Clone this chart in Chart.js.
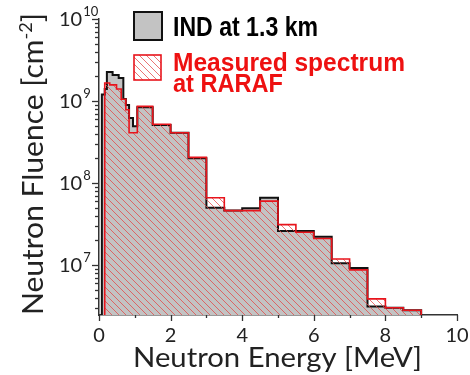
<!DOCTYPE html>
<html>
<head>
<meta charset="utf-8">
<script src="https://cdn.jsdelivr.net/npm/chart.js@4/dist/chart.umd.min.js"></script>
<style>
  html, body { margin: 0; padding: 0; background: #fff; }
  #wrap { width: 470px; height: 375px; }
</style>
</head>
<body>
<div id="wrap"><canvas id="c" width="470" height="375"></canvas></div>
<script>
// bin edges in MeV (non uniform below 1.5 MeV)
var binEdges = [0.08, 0.16, 0.22, 0.3, 0.38, 0.49, 0.55, 0.62, 0.68, 0.75, 0.84, 0.95, 1.07,
                1.5, 2, 2.5, 3, 3.5, 4, 4.5, 5, 5.5, 6, 6.5, 7, 7.5, 8, 8.5, 9];

// IND at 1.3 km, fluence per bin [cm-2]
var indFluence = [1.2e9, 1.4e9, 2.26e9, 2.26e9, 2.07e9, 2.07e9, 1.9e9, 1.9e9, 1.06e9, 8.9e8, 6.2e8, 4.9e8, 8.4e8,
                  5.1e8, 4.1e8, 2.0e8, 5.0e7, 4.6e7, 4.9e7, 6.6e7, 2.6e7, 2.6e7, 2.2e7, 1.05e7, 9.2e6, 3.1e6, 3.0e6, 2.8e6];

// measured spectrum at RARAF
var rarafFluence = [null, 1.66e9, 1.66e9, 1.57e9, 1.57e9, 1.4e9, 1.4e9, 1.05e9, 1.05e9, 7.8e8, 4.1e8, 4.1e8, 8.6e8,
                    5.2e8, 4.1e8, 2.05e8, 6.6e7, 4.6e7, 4.6e7, 6.0e7, 3.1e7, 2.5e7, 2.1e7, 1.18e7, 8.7e6, 3.85e6, 3.0e6, 2.8e6];

var xTicks = [0, 2, 4, 6, 8, 10];
var yTickExps = [7, 8, 9, 10];
var yMin = 2.45e6, yMax = 1e10;

var seriesNames = ["IND at 1.3 km", "Measured spectrum", "at RARAF"];

// histogram outline -> points for a stepped line
function steps(values) {
  var pts = [];
  var first = 0;
  while (values[first] === null) first++;
  pts.push({x: binEdges[first], y: yMin});
  for (var i = first; i < values.length; i++) {
    pts.push({x: binEdges[i], y: values[i]});
  }
  var n = values.length;
  pts.push({x: binEdges[n], y: values[n - 1]});
  pts.push({x: binEdges[n], y: yMin});
  return pts;
}

function makeHatch() {
  var s = 7;
  var p = document.createElement("canvas");
  p.width = s; p.height = s;
  var g = p.getContext("2d");
  g.strokeStyle = "rgba(228,70,70,0.75)";
  g.lineWidth = 1;
  for (var k = -1; k <= 1; k++) {
    g.beginPath();
    g.moveTo(k * s, 0);
    g.lineTo(k * s + s, s);
    g.stroke();
  }
  return document.getElementById("c").getContext("2d").createPattern(p, "repeat");
}
var hatch = makeHatch();

// draw text pieces squeezed/stretched to a given width
function fitText(ctx, parts, x, y, width) {
  var total = 0;
  parts.forEach(function (p) { ctx.font = p.font; total += ctx.measureText(p.t).width; });
  ctx.save();
  ctx.translate(x, y);
  ctx.scale(width / total, 1);
  var cx = 0;
  parts.forEach(function (p) {
    ctx.font = p.font;
    ctx.fillText(p.t, cx, p.dy || 0);
    cx += ctx.measureText(p.t).width;
  });
  ctx.restore();
}

var axisPlugin = {
  id: "axisBits",
  afterDraw: function (chart) {
    var ctx = chart.ctx;
    var xs = chart.scales.x, ys = chart.scales.y;
    var a = chart.chartArea;
    ctx.save();
    ctx.strokeStyle = "#333";
    ctx.lineWidth = 1.3;
    // y ticks (log minor)
    for (var e = 6; e <= 10; e++) {
      for (var m = 1; m <= 9; m++) {
        var v = m * Math.pow(10, e);
        if (v < yMin || v > yMax * 1.0001) continue;
        var py = Math.round(ys.getPixelForValue(v)) + 0.5;
        var len = m === 1 ? 7 : 4;
        ctx.beginPath();
        ctx.moveTo(a.left - len, py);
        ctx.lineTo(a.left, py);
        ctx.stroke();
      }
    }
    // x ticks
    for (var t = 0; t <= 10; t++) {
      var px = Math.round(xs.getPixelForValue(t)) + 0.5;
      var l = t % 2 === 0 ? 6 : 3;
      ctx.beginPath();
      ctx.moveTo(px, a.bottom);
      ctx.lineTo(px, a.bottom + l);
      ctx.stroke();
    }
    // y tick labels 10^n
    ctx.fillStyle = "#222";
    ctx.textBaseline = "alphabetic";
    ctx.textAlign = "left";
    yTickExps.forEach(function (n) {
      var py = ys.getPixelForValue(Math.pow(10, n));
      ctx.font = "20px Lato";
      ctx.fillText("10", 59, py + 7);
      var w = ctx.measureText("10").width;
      ctx.font = "13px Lato";
      ctx.fillText(String(n), 59 + w + 1, py - 3);
    });
    // axis titles
    ctx.fillStyle = "#222";
    ctx.save();
    ctx.translate(43, 315);
    ctx.rotate(-Math.PI / 2);
    fitText(ctx, [
      {t: "Neutron Fluence [cm", font: "28px Lato"},
      {t: "-2", font: "17px Lato", dy: -11},
      {t: "]", font: "28px Lato"}
    ], 0, 0, 302);
    ctx.restore();
    fitText(ctx, [{t: "Neutron Energy [MeV]", font: "26px Lato"}], 133, 367, 289);

    // legend
    ctx.fillStyle = "#c3c3c3";
    ctx.fillRect(134, 12, 28, 28);
    ctx.strokeStyle = "#111";
    ctx.lineWidth = 2;
    ctx.strokeRect(134, 12, 28, 28);
    ctx.fillStyle = "#fff";
    ctx.fillRect(134, 55, 27, 25);
    ctx.fillStyle = hatch;
    ctx.fillRect(134, 55, 27, 25);
    ctx.strokeStyle = "#e8141c";
    ctx.lineWidth = 1.6;
    ctx.strokeRect(134, 55, 27, 25);

    ctx.fillStyle = "#000";
    fitText(ctx, [{t: seriesNames[0], font: "bold 27px 'Liberation Sans'"}], 173, 36, 145);
    ctx.fillStyle = "#ee1111";
    fitText(ctx, [{t: seriesNames[1], font: "bold 25px 'Liberation Sans'"}], 173, 71, 232);
    fitText(ctx, [{t: seriesNames[2], font: "bold 25px 'Liberation Sans'"}], 173, 92, 110);
    ctx.restore();
  }
};

var chart = new Chart(document.getElementById("c"), {
  type: "line",
  data: {
    datasets: [
      {
        label: seriesNames[1] + " " + seriesNames[2],
        data: steps(rarafFluence),
        stepped: "before",
        borderColor: "#e8141c",
        borderWidth: 1.6,
        backgroundColor: hatch,
        fill: "start",
        pointRadius: 0,
        order: 0
      },
      {
        label: seriesNames[0],
        data: steps(indFluence),
        stepped: "before",
        borderColor: "#111",
        borderWidth: 2,
        backgroundColor: "#c3c3c3",
        fill: "start",
        pointRadius: 0,
        order: 1
      }
    ]
  },
  options: {
    animation: false,
    responsive: false,
    layout: { padding: { top: 19, right: 13, left: 0, bottom: 0 } },
    plugins: { legend: { display: false }, tooltip: { enabled: false } },
    scales: {
      x: {
        type: "linear",
        min: 0,
        max: 10,
        afterFit: function (s) { s.height = 60; s.paddingLeft = 0; s.paddingRight = 0; },
        afterBuildTicks: function (s) { s.ticks = xTicks.map(function (v) { return {value: v}; }); },
        grid: { display: false, drawTicks: false },
        border: { display: true, color: "#333", width: 1.5 },
        ticks: { autoSkip: false, maxRotation: 0, padding: 9, color: "#222", font: { family: "Lato", size: 20 } }
      },
      y: {
        type: "logarithmic",
        min: yMin,
        max: yMax,
        afterFit: function (s) { s.width = 99; },
        grid: { display: false, drawTicks: false },
        border: { display: true, color: "#333", width: 1.5 },
        ticks: { display: false }
      }
    }
  },
  plugins: [axisPlugin]
});
</script>
</body>
</html>
